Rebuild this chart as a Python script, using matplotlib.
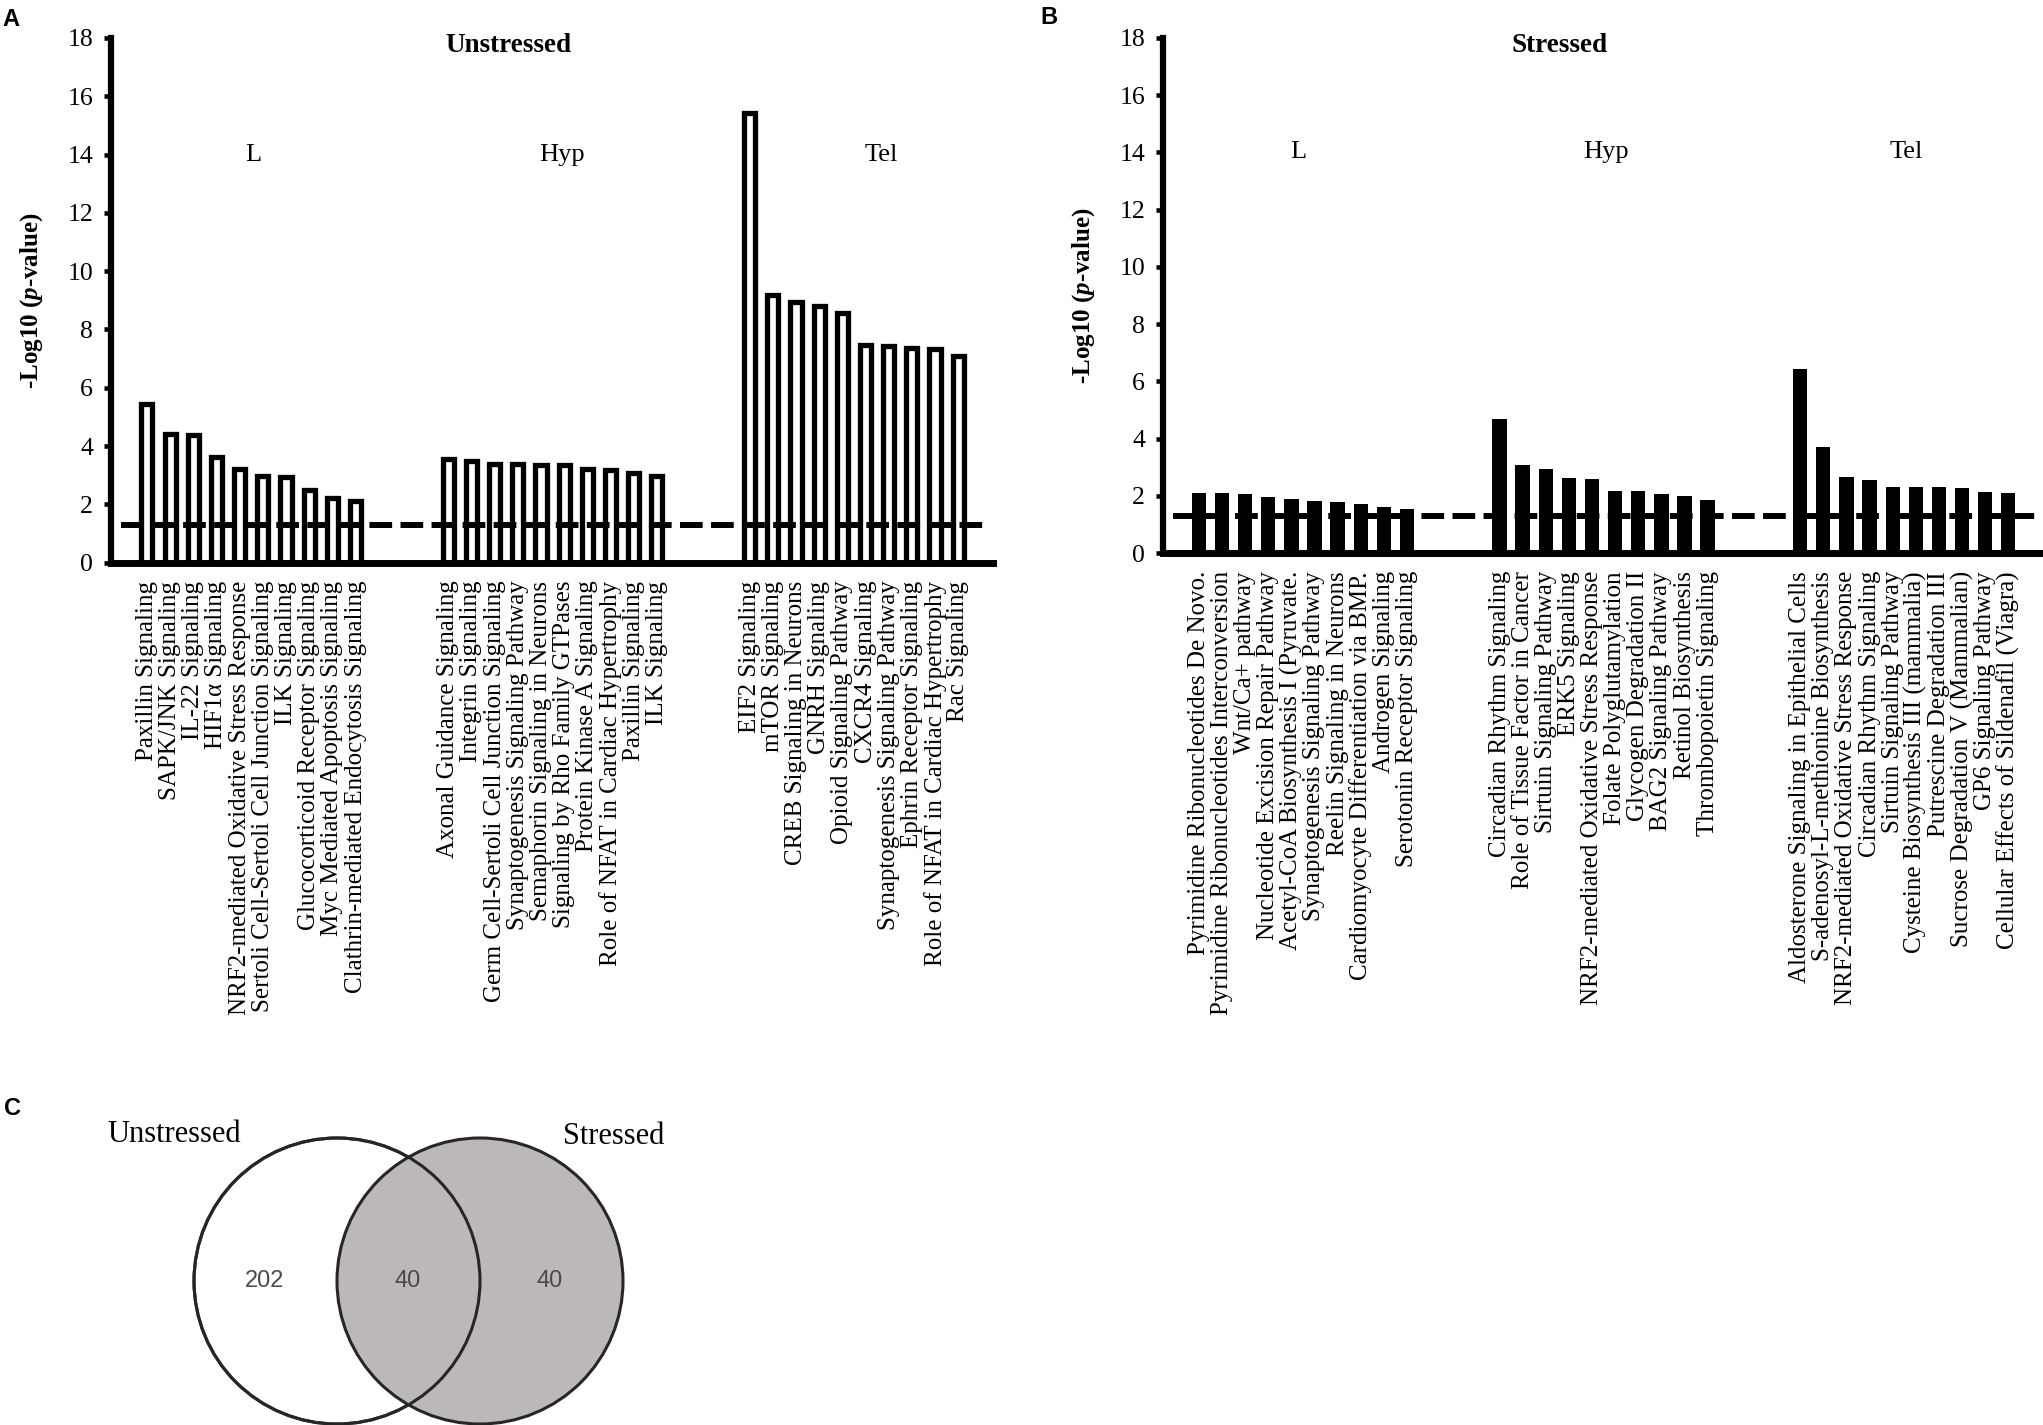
import numpy as np
import matplotlib
matplotlib.use("Agg")
import matplotlib.pyplot as plt
from matplotlib.patches import Circle

plt.rcParams['font.family'] = ['Liberation Serif', 'DejaVu Serif']
plt.rcParams['mathtext.fontset'] = 'custom'
plt.rcParams['mathtext.rm'] = 'Liberation Serif'
plt.rcParams['mathtext.it'] = 'Liberation Serif:italic'
plt.rcParams['mathtext.bf'] = 'Liberation Serif:bold'
plt.rcParams['mathtext.bfit'] = 'Liberation Serif:italic:bold'

# ---- data ----
groups = ["L", "Hyp", "Tel"]

unstressed_labels = [
    # L
    "Paxillin Signaling", "SAPK/JNK Signaling", "IL-22 Signaling", "HIF1α Signaling",
    "NRF2-mediated Oxidative Stress Response", "Sertoli Cell-Sertoli Cell Junction Signaling",
    "ILK Signaling", "Glucocorticoid Receptor Signaling", "Myc Mediated Apoptosis Signaling",
    "Clathrin-mediated Endocytosis Signaling",
    # Hyp
    "Axonal Guidance Signaling", "Integrin Signaling", "Germ Cell-Sertoli Cell Junction Signaling",
    "Synaptogenesis Signaling Pathway", "Semaphorin Signaling in Neurons",
    "Signaling by Rho Family GTPases", "Protein Kinase A Signaling",
    "Role of NFAT in Cardiac Hypertrophy", "Paxillin Signaling", "ILK Signaling",
    # Tel
    "EIF2 Signaling", "mTOR Signaling", "CREB Signaling in Neurons", "GNRH Signaling",
    "Opioid Signaling Pathway", "CXCR4 Signaling", "Synaptogenesis Signaling Pathway",
    "Ephrin Receptor Signaling", "Role of NFAT in Cardiac Hypertrophy", "Rac Signaling",
]
unstressed_L = [5.45, 4.40, 4.37, 3.64, 3.21, 2.96, 2.95, 2.49, 2.23, 2.13]
unstressed_Hyp = [3.55, 3.48, 3.39, 3.39, 3.35, 3.35, 3.22, 3.18, 3.09, 2.96]
unstressed_Tel = [15.44, 9.17, 8.94, 8.80, 8.57, 7.45, 7.42, 7.38, 7.33, 7.10]

stressed_labels = [
    # L
    "Pyrimidine Ribonucleotides De Novo.", "Pyrimidine Ribonucleotides Interconversion",
    "Wnt/Ca+ pathway", "Nucleotide Excision Repair Pathway", "Acetyl-CoA Biosynthesis I (Pyruvate.",
    "Synaptogenesis Signaling Pathway", "Reelin Signaling in Neurons",
    "Cardiomyocyte Differentiation via BMP.", "Androgen Signaling", "Serotonin Receptor Signaling",
    # Hyp
    "Circadian Rhythm Signaling", "Role of Tissue Factor in Cancer", "Sirtuin Signaling Pathway",
    "ERK5 Signaling", "NRF2-mediated Oxidative Stress Response", "Folate Polyglutamylation",
    "Glycogen Degradation II", "BAG2 Signaling Pathway", "Retinol Biosynthesis",
    "Thrombopoietin Signaling",
    # Tel
    "Aldosterone Signaling in Epithelial Cells", "S-adenosyl-L-methionine Biosynthesis",
    "NRF2-mediated Oxidative Stress Response", "Circadian Rhythm Signaling",
    "Sirtuin Signaling Pathway", "Cysteine Biosynthesis III (mammalia)",
    "Putrescine Degradation III", "Sucrose Degradation V (Mammalian)", "GP6 Signaling Pathway",
    "Cellular Effects of Sildenafil (Viagra)",
]
stressed_L = [2.08, 2.08, 2.07, 1.94, 1.88, 1.83, 1.78, 1.70, 1.61, 1.54]
stressed_Hyp = [4.69, 3.08, 2.94, 2.61, 2.58, 2.18, 2.18, 2.07, 1.98, 1.85]
stressed_Tel = [6.43, 3.72, 2.64, 2.54, 2.30, 2.30, 2.30, 2.26, 2.14, 2.10]

threshold = -np.log10(0.05)

venn_names = ["Unstressed", "Stressed"]
venn_counts = [202, 40, 40]  # only unstressed, shared, only stressed

W, H = 2043, 1425
fig = plt.figure(figsize=(W / 100, H / 100), dpi=100)


def bar_positions(n_per_group, n_groups, gap=3):
    pos = []
    for g in range(n_groups):
        pos += [g * (n_per_group + gap) + i for i in range(n_per_group)]
    return np.array(pos)


def draw_panel(rect, values, labels, title, hollow, label_x):
    ax = fig.add_axes(rect)
    x = bar_positions(10, 3)
    if hollow:
        ax.bar(x, values, width=0.48, facecolor="white", edgecolor="black", linewidth=3.8, zorder=2)
    else:
        ax.bar(x, values, width=0.62, color="black", linewidth=0, zorder=2)
    ax.plot([-1.1, 36.3], [threshold, threshold], color="black", lw=4.3,
            ls=(0, (3.8, 1.4)), zorder=3, solid_capstyle="butt")
    ax.set_xlim(-1.55, 36.5)
    ax.set_ylim(0, 18)
    ax.set_yticks(np.arange(0, 19, 2))
    ax.set_xticks(x, labels, rotation=90, fontsize=18)
    ax.tick_params(axis="x", length=0, pad=13)
    ax.tick_params(axis="y", direction="out", length=5, width=3.3, labelsize=18.5, pad=8)
    for s in ["top", "right"]:
        ax.spines[s].set_visible(False)
    ax.spines["left"].set_linewidth(4.5)
    ax.spines["bottom"].set_linewidth(5)
    ax.set_ylabel(r"-Log10 ($\mathbfit{p}$-value)", fontsize=18, fontweight="bold")
    ax.yaxis.set_label_coords(-0.075, 0.5)
    ax.text(15.6, 17.75, title, ha="center", va="center", fontsize=19.5, fontweight="bold")
    for gx, g in zip(label_x, groups):
        ax.text(gx, 14, g, ha="center", va="center", fontsize=19)
    return ax


axA = draw_panel([111 / W, 1 - 562.6 / H, (993 - 111) / W, (562.6 - 38) / H],
                 unstressed_L + unstressed_Hyp + unstressed_Tel, unstressed_labels,
                 "Unstressed", True, [4.6, 17.9, 31.7])
axB = draw_panel([1163 / W, 1 - 553 / H, (W - 1163) / W, (553 - 38) / H],
                 stressed_L + stressed_Hyp + stressed_Tel, stressed_labels,
                 "Stressed", False, [4.3, 17.6, 30.6])

# ---- Venn (pixel coordinates) ----
axC = fig.add_axes([0, 0, 1, 1], zorder=-1)
axC.set_xlim(0, W)
axC.set_ylim(H, 0)
axC.axis("off")
r = 143
axC.add_patch(Circle((337, 1281), r, facecolor="white", edgecolor="#262626", lw=2.2, zorder=1))
axC.add_patch(Circle((480, 1281), r, facecolor="#bcb8b8", edgecolor="#262626", lw=2.2, zorder=2))
axC.add_patch(Circle((337, 1281), r, facecolor="none", edgecolor="#262626", lw=2.2, zorder=3))
axC.text(174, 1135, venn_names[0], ha="center", va="center", fontsize=22)
axC.text(614, 1136, venn_names[1], ha="center", va="center", fontsize=22)
for cx, n in zip([265, 408, 550], venn_counts):
    axC.text(cx, 1281, str(n), ha="center", va="center", fontsize=17,
             family="Liberation Sans", color="#4a4a4a")

# panel letters
for px, py, letter in [(2, 8, "A"), (1040, 6, "B"), (4, 1097, "C")]:
    fig.text(px / W, 1 - py / H, letter, ha="left", va="top", fontsize=17,
             fontweight="bold", family="Liberation Sans")

fig.savefig("out.png", dpi=100)
